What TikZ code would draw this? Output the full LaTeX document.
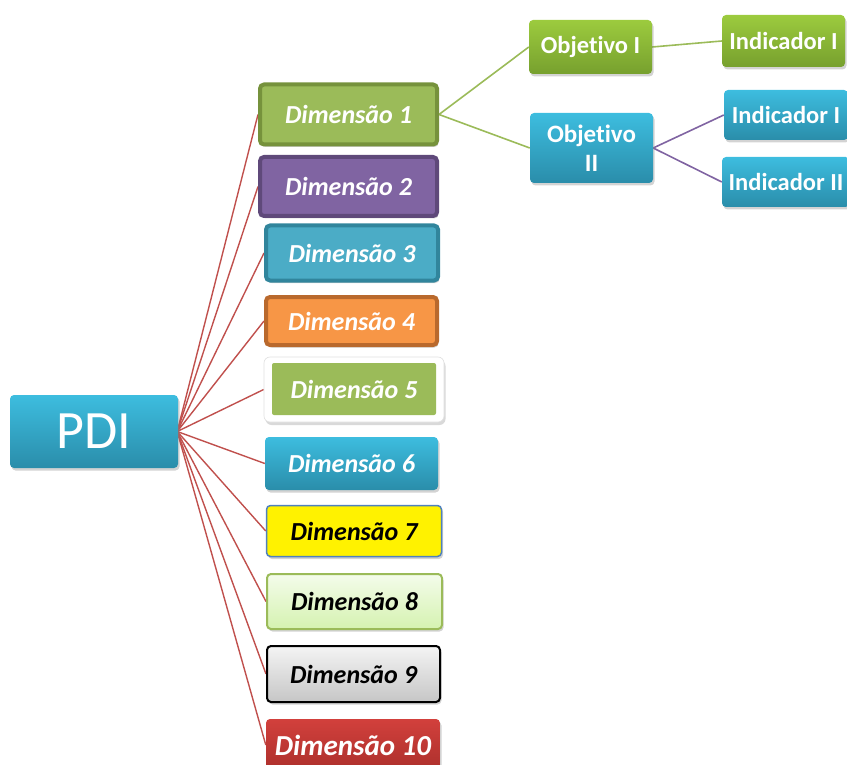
\documentclass[tikz,border=0pt]{standalone}
\usepackage{fontspec}
\setmainfont{Carlito}[Ligatures=NoCommon]
\usetikzlibrary{shadows,backgrounds}
\definecolor{cGreen}{HTML}{9BBB59}
\definecolor{cGreenD}{HTML}{76923C}
\definecolor{cPurple}{HTML}{8064A2}
\definecolor{cPurpleD}{HTML}{5F497A}
\definecolor{cTeal}{HTML}{4BACC6}
\definecolor{cTealD}{HTML}{31859C}
\definecolor{cOrange}{HTML}{F79646}
\definecolor{cOrangeD}{HTML}{B9692D}
\definecolor{cBlueT}{HTML}{3DBDDF}
\definecolor{cBlueB}{HTML}{2A8DAA}
\definecolor{cGrT}{HTML}{9CCB3E}
\definecolor{cGrB}{HTML}{77A02E}
\definecolor{cRed}{HTML}{C0504D}
\definecolor{cRedT}{HTML}{D2403C}
\definecolor{cRedB}{HTML}{AC302C}
\definecolor{cYelB}{HTML}{4F81BD}
\definecolor{cLgT}{HTML}{F4FCEB}
\definecolor{cLgB}{HTML}{D5F2B0}
\definecolor{cGyT}{HTML}{F4F4F4}
\definecolor{cGyB}{HTML}{C6C6C6}
\tikzset{
  shad/.style={drop shadow={shadow xshift=1.5pt,shadow yshift=-2.5pt,opacity=.35}},
  plainbox/.style={rounded corners=4pt,inner sep=0pt,align=center,text=white},
  box/.style={plainbox,shad},
  dimtxt/.style={font=\fontsize{26}{28}\selectfont\bfseries\itshape},
  objtxt/.style={font=\fontsize{24.5}{27}\selectfont\bfseries},
  gradblue/.style={top color=cBlueT,bottom color=cBlueB},
  gradgreen/.style={top color=cGrT,bottom color=cGrB},
  redline/.style={draw=cRed,line width=1.4pt},
  grline/.style={draw=cGreen,line width=1.6pt},
  puline/.style={draw=cPurple,line width=1.6pt}
}
\begin{document}
\begin{tikzpicture}[x=1pt,y=-1pt]
\useasboundingbox (0,0) rectangle (847,765);
% root
\node[box,gradblue,minimum width=168pt,minimum height=73pt,font=\fontsize{54}{56}\selectfont] (pdi) at (94,431.5) {PDI};
% dimensions
\node[box,dimtxt,fill=cGreen,draw=cGreenD,line width=4pt,minimum width=177pt,minimum height=60pt] (d1) at (348.5,114.5) {Dimensão 1};
\node[box,dimtxt,fill=cPurple,draw=cPurpleD,line width=4pt,minimum width=177pt,minimum height=59pt] (d2) at (348.5,186.5) {Dimensão 2};
\node[box,dimtxt,fill=cTeal,draw=cTealD,line width=4pt,minimum width=172pt,minimum height=55pt] (d3) at (352,253) {Dimensão 3};
\node[box,dimtxt,fill=cOrange,draw=cOrangeD,line width=4pt,minimum width=171pt,minimum height=48pt] (d4) at (351.5,321) {Dimensão 4};
\node[plainbox,rounded corners=6pt,fill=white,draw=black!12,line width=0.6pt,drop shadow={shadow xshift=1.5pt,shadow yshift=-3pt,opacity=.3},minimum width=180pt,minimum height=65pt] (d5) at (354,389.5) {};
\node[plainbox,dimtxt,fill=cGreen,rounded corners=2pt,minimum width=164pt,minimum height=52pt] (d5in) at (354,389) {Dimensão 5};
\node[box,dimtxt,gradblue,minimum width=173pt,minimum height=53pt] (d6) at (351.5,463.5) {Dimensão 6};
\node[box,dimtxt,fill=yellow,draw=cYelB,line width=1.5pt,text=black,minimum width=175pt,minimum height=51pt] (d7) at (354,531) {Dimensão 7};
\node[box,dimtxt,top color=cLgT,bottom color=cLgB,draw=cGreen,line width=2pt,text=black,minimum width=175pt,minimum height=55pt] (d8) at (354.5,601.5) {Dimensão 8};
\node[box,dimtxt,top color=cGyT,bottom color=cGyB,draw=black,line width=2pt,text=black,minimum width=173pt,minimum height=56pt] (d9) at (353.5,674) {Dimensão 9};
\node[box,dimtxt,top color=cRedT,bottom color=cRedB,minimum width=174pt,minimum height=52pt,font=\fontsize{29}{30}\selectfont\bfseries\itshape] (d10) at (353,745) {Dimensão 10};
% objectives
\node[box,objtxt,gradgreen,minimum width=123pt,minimum height=54pt] (o1) at (590.5,47) {Objetivo I};
\node[box,objtxt,gradblue,minimum width=123pt,minimum height=70pt,font=\fontsize{25}{29}\selectfont\bfseries] (o2) at (591.5,148) {Objetivo\\II};
% indicators
\node[box,objtxt,gradgreen,minimum width=123pt,minimum height=52pt] (i1) at (783.5,41) {Indicador I};
\node[box,objtxt,gradblue,minimum width=124pt,minimum height=50pt] (i2) at (786,115) {Indicador I};
\node[box,objtxt,gradblue,minimum width=128pt,minimum height=50pt] (i3) at (786,182) {Indicador II};
% connectors
\begin{pgfonlayer}{background}
\coordinate (root) at ([xshift=-1pt]pdi.east);
\foreach \d in {d1,d2,d3,d4,d5,d6,d7,d8,d9,d10}
  \draw[redline] (root) -- (\d.west);
\draw[grline] (d1.east) -- (o1.west);
\draw[grline] (d1.east) -- (o2.west);
\draw[grline] (o1.east) -- (i1.west);
\draw[puline] (o2.east) -- (i2.west);
\draw[puline] (o2.east) -- (i3.west);
\end{pgfonlayer}
\end{tikzpicture}
\end{document}
